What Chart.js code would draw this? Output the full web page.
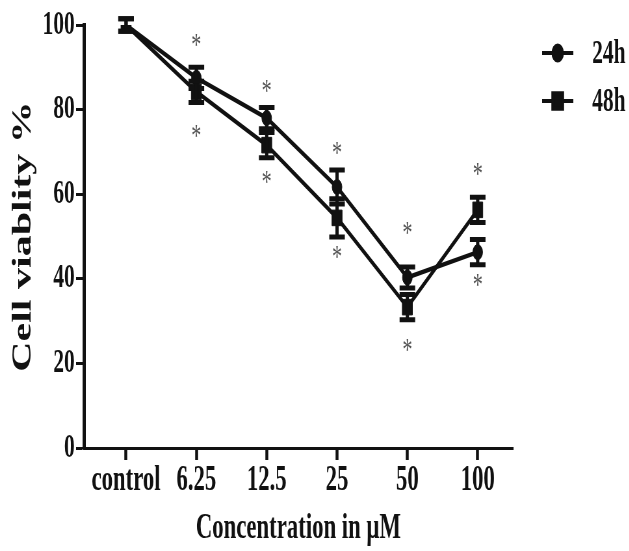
<!DOCTYPE html>
<html><head><meta charset="utf-8">
<script src="https://cdn.jsdelivr.net/npm/chart.js@4/dist/chart.umd.min.js"></script>
<style>
html,body{margin:0;padding:0;background:#fff;overflow:hidden;width:629px;height:551px}
#wrap{width:968px;height:551px;transform:scaleX(0.65);transform-origin:0 0}
canvas{display:block}
</style></head><body>
<div id="wrap"><canvas id="c" width="968" height="551"></canvas></div>
<script>
const categories = ['control', '6.25', '12.5', '25', '50', '100'];
const seriesNames = ['24h', '48h'];
const viability24h = [100, 87.5, 78, 61.7, 40.3, 46.3];
const sem24h = [1.5, 2.5, 2.5, 4, 2.5, 3];
const viability48h = [100, 84.2, 71.6, 54.4, 33.3, 56.3];
const sem48h = [1.5, 2.5, 3, 4.5, 3, 3];
const starAbove = [null, 96.5, 85.5, 71, 52, 66];
const starBelow = [null, 75, 64, 46.3, 24.3, 39.7];
const yTicks = [0, 20, 40, 60, 80, 100];

const FONT = "'Liberation Serif','Times New Roman',serif";
const INK = '#111';
const errs = [sem24h, sem48h];

const errorBars = {
  id: 'errorBars',
  afterDatasetsDraw(chart) {
    const {ctx, scales: {x, y}} = chart;
    ctx.save();
    ctx.strokeStyle = INK;
    chart.data.datasets.forEach((ds, k) => {
      ds.data.forEach((p, i) => {
        const e = errs[k][i];
        if (!e) return;
        const px = x.getPixelForValue(p.x);
        const yt = y.getPixelForValue(p.y + e);
        const yb = y.getPixelForValue(p.y - e);
        ctx.lineWidth = 5;
        ctx.beginPath(); ctx.moveTo(px, yt); ctx.lineTo(px, yb); ctx.stroke();
        ctx.lineWidth = 5;
        ctx.beginPath();
        ctx.moveTo(px - 12, yt); ctx.lineTo(px + 12, yt);
        ctx.moveTo(px - 12, yb); ctx.lineTo(px + 12, yb);
        ctx.stroke();
      });
    });
    ctx.restore();
  }
};

const stars = {
  id: 'stars',
  afterDatasetsDraw(chart) {
    const {ctx, scales: {x, y}} = chart;
    ctx.save();
    ctx.font = 'normal 31px ' + FONT;
    ctx.fillStyle = '#555';
    ctx.textAlign = 'center';
    ctx.textBaseline = 'alphabetic';
    const m = ctx.measureText('*');
    const off = (m.actualBoundingBoxAscent - m.actualBoundingBoxDescent) / 2;
    [starAbove, starBelow].forEach(arr => {
      arr.forEach((v, i) => {
        if (v == null) return;
        ctx.fillText('*', x.getPixelForValue(i), y.getPixelForValue(v) + off);
      });
    });
    ctx.restore();
  }
};

const legendRows = {
  id: 'legendRows',
  afterDraw(chart) {
    const ctx = chart.ctx;
    const rowsY = [53, 101];
    ctx.save();
    chart.data.datasets.forEach((ds, k) => {
      const yy = rowsY[k];
      ctx.strokeStyle = INK; ctx.fillStyle = INK;
      ctx.lineWidth = 4;
      ctx.beginPath(); ctx.moveTo(834, yy); ctx.lineTo(882, yy); ctx.stroke();
      Chart.helpers.drawPoint(ctx, {pointStyle: ds.pointStyle, radius: ds.pointRadius, rotation: 0, borderWidth: 1}, 858, yy);
      ctx.font = 'bold 33px ' + FONT;
      ctx.textAlign = 'left';
      ctx.textBaseline = 'middle';
      ctx.fillText(ds.label, 911, yy + 1);
    });
    ctx.restore();
  }
};

new Chart(document.getElementById('c').getContext('2d'), {
  type: 'line',
  data: {
    datasets: [
      {label: seriesNames[0], data: viability24h.map((v, i) => ({x: i, y: v})), borderColor: INK, backgroundColor: INK,
       borderWidth: 4.5, pointStyle: 'circle', pointRadius: 7.5, pointBorderWidth: 1, tension: 0},
      {label: seriesNames[1], data: viability48h.map((v, i) => ({x: i, y: v})), borderColor: INK, backgroundColor: INK,
       borderWidth: 4.5, pointStyle: 'rect', pointRadius: 11, pointBorderWidth: 1, tension: 0}
    ]
  },
  options: {
    responsive: false, animation: false, devicePixelRatio: 1,
    layout: {padding: {left: 0, right: 179, top: 25, bottom: 0}},
    plugins: {legend: {display: false}, tooltip: {enabled: false}},
    scales: {
      x: {
        type: 'linear', min: -0.6, max: 5.5,
        afterBuildTicks: s => { s.ticks = categories.map((_, i) => ({value: i})); },
        afterFit: s => { s.height = 103; },
        grid: {drawOnChartArea: false, drawTicks: true, tickLength: 12, tickWidth: 4.5, tickColor: INK},
        border: {display: true, color: INK, width: 3},
        ticks: {callback: v => categories[v], font: {family: FONT, size: 35, weight: 'bold'}, color: INK,
                padding: 0, maxRotation: 0, minRotation: 0, autoSkip: false},
        title: {display: true, text: 'Concentration in μM', font: {family: FONT, size: 35, weight: 'bold'}, color: INK,
                padding: {top: 0, bottom: 1}}
      },
      y: {
        min: 0, max: 100,
        afterBuildTicks: s => { s.ticks = yTicks.map(v => ({value: v})); },
        afterFit: s => { s.width = 129; },
        grid: {drawOnChartArea: false, drawTicks: true, tickLength: 12, tickWidth: 3, tickColor: INK},
        border: {display: true, color: INK, width: 5},
        ticks: {font: {family: FONT, size: 33, weight: 'bold'}, color: INK, padding: 2},
        title: {display: true, text: 'Cell viablity %', font: {family: FONT, size: 42, weight: 'bold'}, color: INK,
                padding: {top: 11, bottom: 0}}
      }
    }
  },
  plugins: [errorBars, stars, legendRows]
});
</script>
</body></html>
